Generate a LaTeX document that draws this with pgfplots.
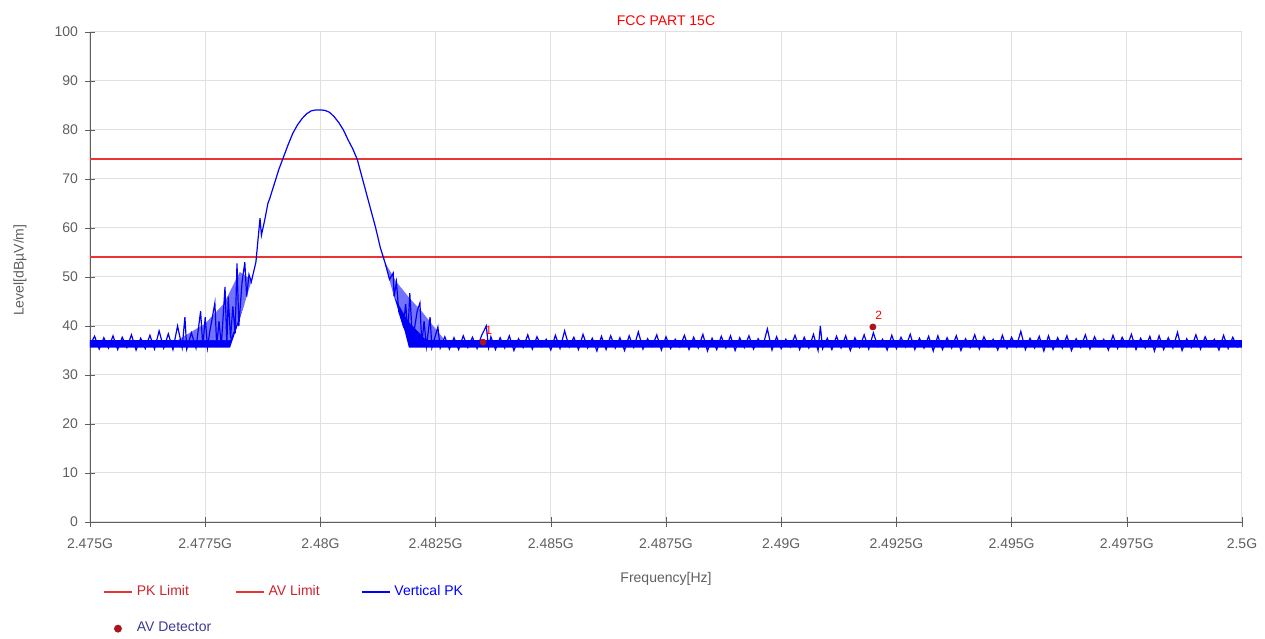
\documentclass[border=0pt]{standalone}
\usepackage{fontspec}
\setmainfont{Liberation Sans}
\usepackage{pgfplots}
\pgfplotsset{compat=1.18}

\definecolor{limred}{RGB}{232,52,52}
\definecolor{legred}{RGB}{205,35,45}
\definecolor{tracebl}{RGB}{0,0,250}
\definecolor{detred}{RGB}{170,20,30}
\definecolor{axgray}{RGB}{95,95,95}
\definecolor{gridgray}{RGB}{224,224,224}
\newcommand{\ff}{\fontsize{7}{8.4}\selectfont}

\begin{document}
\begin{tikzpicture}
\begin{axis}[
  at={(0,0)}, anchor=south west,
  scale only axis, width=576pt, height=245pt,
  xmin=0, xmax=25, ymin=0, ymax=100,
  axis lines=left, axis line style={-, draw=axgray},
  xtick={0,2.5,5,7.5,10,12.5,15,17.5,20,22.5,25},
  xticklabels={2.475G,2.4775G,2.48G,2.4825G,2.485G,2.4875G,2.49G,2.4925G,2.495G,2.4975G,2.5G},
  ytick={0,10,...,100},
  tick align=center, major tick length=5pt,
  tick style={draw=axgray},
  grid=major, grid style={draw=gridgray, line width=0.5pt},
  tick label style={font=\ff, text=axgray},
  xticklabel style={yshift=-2.5pt},
  /pgf/number format/assume math mode=true,
  title={FCC PART 15C},
  title style={font=\ff, text=red, at={(axis description cs:0.5,1)}, anchor=south, yshift=-6.5pt},
  xlabel={Frequency[Hz]},
  xlabel style={font=\ff, text=axgray, at={(axis description cs:0.5,-0.116)}, anchor=center},
  ylabel={Level[dBµV/m]},
  ylabel style={font=\ff, text=axgray, at={(axis description cs:-0.0608,0.514)}, anchor=center, rotate=0},
  legend columns=3,
  legend cell align=left,
  legend image code/.code={\draw[mark repeat=2,mark phase=2,#1] plot coordinates {(0pt,0pt) (7pt,0pt) (14pt,0pt)};},
  legend image post style={line width=0.9pt},
  legend style={at={(axis description cs:0.011,-0.120)}, anchor=north west, draw=none, fill=none,
    inner sep=0pt, font=\ff, /tikz/every even column/.append style={column sep=8pt}, /tikz/row sep=8pt},
]
% dense core of the noise floor and of the skirts
\addplot[forget plot, draw=none, fill=tracebl] coordinates {
(0,35.6) (3.04,35.6) (3.2,40) (3.35,44.5) (3.3,46) (3.1,43) (2.85,40) (2.6,37.1) (0,37.1)} -- cycle;
\addplot[forget plot, draw=none, fill=tracebl!55!white] coordinates {
(1.9,37.1) (2.5,40.5) (2.9,44.5) (3.25,51) (3.42,50) (3.5,49) (3.3,43) (3.1,38.5) (3.04,37.1)} -- cycle;
\addplot[forget plot, draw=none, fill=tracebl!55!white] coordinates {
(6.4,53) (6.65,49) (6.95,45.5) (7.2,43) (7.45,40) (7.7,37.1) (6.95,37.1) (6.8,40) (6.6,46) (6.5,49.5)} -- cycle;
\addplot[forget plot, draw=none, fill=tracebl] coordinates {
(6.5,49.5) (6.6,46) (6.75,43.5) (6.9,41) (7.1,39) (7.3,37.1) (25,37.1) (25,35.6) (6.92,35.6) (6.8,40) (6.6,46)} -- cycle;
\addplot[limred, line width=1pt] coordinates {(0,74) (25,74)};
\addlegendentry{\makebox[39pt][l]{\textcolor{legred}{PK Limit}}}
\addplot[limred, line width=1pt] coordinates {(0,54) (25,54)};
\addlegendentry{\makebox[36pt][l]{\textcolor{legred}{AV Limit}}}
\addplot[tracebl, line width=0.6pt] coordinates {
(0.0,36.2) (0.1,37.9) (0.2,35.3) (0.3,37.6) (0.4,35.5) (0.5,38.0) (0.6,35.2) (0.7,37.7) (0.8,35.6) (0.9,38.2)
(1.0,35.1) (1.1,37.5) (1.2,35.4) (1.3,38.1) (1.4,35.3) (1.5,39.0) (1.6,35.5) (1.7,38.4) (1.8,35.2) (1.9,40.0)
(2.0,35.6) (2.06,41.8) (2.1,35.3) (2.2,38.6) (2.3,35.5) (2.4,43.0) (2.45,35.8) (2.5,41.8) (2.55,35.6) (2.6,38.9)
(2.71,44.7) (2.75,35.9) (2.8,41.0) (2.85,36.0) (2.93,48.0) (2.97,36.2) (3.0,46.0) (3.05,37.5) (3.1,44.0) (3.15,38.5)
(3.19,52.8) (3.23,40.0) (3.3,49.0) (3.36,53.0) (3.4,46.0) (3.45,50.5) (3.5,49.0) (3.6,53.0) (3.69,62.0) (3.72,58.5)
(3.8,62.0) (3.86,65.0) (3.9,66.0) (4.0,69.0) (4.1,72.0) (4.2,74.5) (4.3,77.0) (4.4,79.3) (4.5,81.0) (4.6,82.3)
(4.7,83.3) (4.8,83.9) (4.9,84.1) (5.0,84.1) (5.1,84.0) (5.2,83.6) (5.3,82.7) (5.4,81.5) (5.5,80.0) (5.6,78.0)
(5.7,76.2) (5.8,74.0) (5.9,70.5) (6.0,67.0) (6.1,63.5) (6.2,60.0) (6.3,56.0) (6.4,53.0) (6.5,49.5) (6.58,50.8)
(6.6,46.0) (6.65,49.0) (6.7,43.0) (6.8,40.0) (6.85,44.5) (6.9,38.5) (6.94,46.7) (7.0,37.0) (7.1,43.0) (7.16,44.7)
(7.2,36.2) (7.25,41.0) (7.3,35.8) (7.38,41.8) (7.42,35.6) (7.5,38.2) (7.55,39.8) (7.6,35.5) (7.7,37.8) (7.8,35.3)
(7.9,37.6) (8.0,35.2) (8.1,38.0) (8.2,35.6) (8.3,37.7) (8.4,35.4) (8.5,38.1) (8.6,40.0) (8.65,35.6) (8.7,37.8)
(8.8,35.2) (8.9,37.6)
(9.0,35.5) (9.1,38.0) (9.2,35.0) (9.3,37.4) (9.4,35.6) (9.5,38.2) (9.6,35.3) (9.7,37.8) (9.8,35.8) (9.9,37.3)
(10.0,35.1) (10.1,38.1) (10.2,35.4) (10.3,39.0) (10.4,35.7) (10.5,37.7) (10.6,35.2) (10.7,38.3) (10.8,35.5) (10.9,37.5)
(11.0,34.9) (11.1,37.9) (11.2,35.2) (11.3,38.0) (11.4,35.5) (11.5,37.6) (11.6,35.0) (11.7,38.0) (11.8,35.6) (11.9,38.8)
(12.0,35.3) (12.1,37.4) (12.2,35.8) (12.3,38.2) (12.4,35.1) (12.5,37.8) (12.6,35.4) (12.7,37.3) (12.8,35.7) (12.9,38.1)
(13.0,35.2) (13.1,37.7) (13.2,35.5) (13.3,38.3) (13.4,34.9) (13.5,37.5) (13.6,35.2) (13.7,37.9) (13.8,35.5) (13.9,38.0)
(14.0,35.0) (14.1,37.6) (14.2,35.6) (14.3,38.0) (14.4,35.3) (14.5,37.4) (14.6,35.8) (14.7,39.4) (14.8,35.1) (14.9,37.8)
(15.0,35.4) (15.1,37.3) (15.2,35.7) (15.3,38.1) (15.4,35.2) (15.5,37.7) (15.6,35.5) (15.7,38.3) (15.8,35.0) (15.85,40.0)
(15.9,35.4) (16.0,37.5) (16.1,35.2) (16.2,37.9) (16.3,35.5) (16.4,38.0) (16.5,35.0) (16.6,37.6) (16.7,35.6) (16.8,38.2)
(16.9,35.3) (17.0,38.6) (17.1,35.8) (17.2,37.3) (17.3,35.1) (17.4,38.1) (17.5,35.4) (17.6,37.7) (17.7,35.7) (17.8,38.3)
(17.9,35.2) (18.0,37.5) (18.1,35.5) (18.2,37.9) (18.3,34.9) (18.4,38.0) (18.5,35.2) (18.6,37.6) (18.7,35.5) (18.8,38.0)
(18.9,35.0) (19.0,37.4) (19.1,35.6) (19.2,38.2) (19.3,35.3) (19.4,37.8) (19.5,35.8) (19.6,37.3) (19.7,35.1) (19.8,38.1)
(19.9,35.4) (20.0,37.7) (20.1,35.7) (20.2,38.9) (20.3,35.2) (20.4,37.5) (20.5,35.5) (20.6,37.9) (20.7,34.9) (20.8,38.0)
(20.9,35.2) (21.0,37.6) (21.1,35.5) (21.2,38.0) (21.3,35.0) (21.4,37.4) (21.5,35.6) (21.6,38.2) (21.7,35.3) (21.8,37.8)
(21.9,35.8) (22.0,37.3) (22.1,35.1) (22.2,38.1) (22.3,35.4) (22.4,37.7) (22.5,35.7) (22.6,38.3) (22.7,35.2) (22.8,37.5)
(22.9,35.5) (23.0,37.9) (23.1,34.9) (23.2,38.0) (23.3,35.2) (23.4,37.6) (23.5,35.5) (23.6,38.7) (23.7,35.0) (23.8,37.4)
(23.9,35.6) (24.0,38.2) (24.1,35.3) (24.2,37.8) (24.3,35.8) (24.4,37.3) (24.5,35.1) (24.6,38.1) (24.7,35.4) (24.8,37.7)
(24.9,35.7) (25.0,36.5)
};
\addlegendentry{\textcolor{tracebl}{Vertical PK}}
\addplot[only marks, mark=*, mark size=1.5pt, color=detred,
  nodes near coords, point meta=explicit symbolic,
  nodes near coords style={font=\fontsize{6}{7}\selectfont, text=red, anchor=south west, xshift=0.5pt, yshift=3pt, inner sep=0.5pt}]
  coordinates {(8.53,36.7)[1] (16.99,39.8)[2]};
\addlegendentry{\textcolor[RGB]{60,60,150}{AV Detector}}
\end{axis}
\path (-45pt,-56.5pt) rectangle (587.5pt,261pt);
\end{tikzpicture}
\end{document}
